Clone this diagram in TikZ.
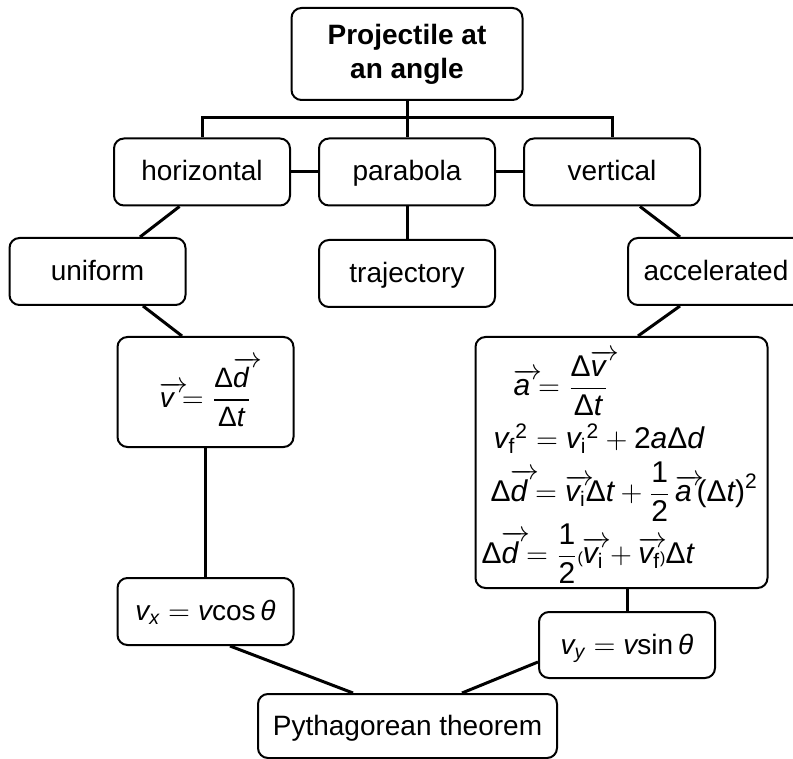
\documentclass[tikz,border=0pt]{standalone}
\usepackage{mathtools}
\usepackage{fontspec}
\setmainfont{Liberation Sans}
\usetikzlibrary{positioning}
\newcommand{\iv}[1]{\text{\itshape #1}}
\newcommand{\vect}[1]{\mathrlap{\overrightarrow{\phantom{\iv{#1}}\hspace{4pt}}}\iv{#1}}
\newcommand{\dlt}{\text{Δ}}

\begin{document}
\begin{tikzpicture}[x=0.5pt,y=-0.5pt,
  box/.style={draw,line width=1pt,rounded corners=5pt,align=center,minimum height=33.5pt,minimum width=88pt,inner sep=2pt,font=\fontsize{14}{17}\selectfont,fill=white},
  tag/.style={box,text height=10pt,text depth=1pt},
  link/.style={line width=1.5pt}
]
\useasboundingbox (0,0) rectangle (793,759);

\node[box,minimum width=115.5pt,minimum height=46pt,font=\fontsize{14}{17}\selectfont\bfseries] (top) at (407,54) {Projectile at\\an angle};
\node[tag] (parab) at (407,172) {parabola};
\node[tag,left=13.5pt of parab] (horiz) {horizontal};
\node[tag,right=13.5pt of parab] (vert) {vertical};
\node[tag,below=16.25pt of parab] (traj) {trajectory};
\node[tag] (unif) at (97.5,271.5) {uniform};
\node[tag] (accel) at (716,271.5) {accelerated};
\node[box,minimum height=55pt] (vel) at (205.5,392) {$\vect{v} = \dfrac{\dlt\vect{d}}{\dlt\iv{t}}$};
\node[box,minimum height=125.5pt,text width=140pt,inner xsep=3pt,align=left,
  font=\fontsize{15}{26.5}\selectfont] (kin) at (621.5,462.5) {%
  \lineskiplimit=-50pt\relax
  \hspace{16pt}$\vect{a} = \dfrac{\dlt\vect{v}}{\dlt\iv{t}}$\rule{0pt}{27pt}\\
  \hspace{6pt}$\iv{v}_{\text{f}}{}^{\text{2}} = \iv{v}_{\text{i}}{}^{\text{2}} + \text{2}\iv{a}\dlt\iv{d}$\\
  \hspace{4.5pt}$\dlt\vect{d} = \vect{v}_{\text{i}}\dlt\iv{t} + \dfrac{\text{1}}{\text{2}}\,\vect{a}\,\text{(}\dlt\iv{t}\text{)}^{\text{2}}$\\
  $\dlt\vect{d} = \dfrac{\text{1}}{\text{2}}\text{\footnotesize(}\vect{v}_{\text{i}} + \vect{v}_{\text{f}}\text{\footnotesize)}\dlt\iv{t}$};
\node[tag] (vx) at (205.5,611.5) {$\iv{v}_{\iv{x}} = \iv{v}\text{cos}\,\iv{θ}$};
\node[tag,minimum height=33pt] (vy) at (627,645) {$\iv{v}_{\iv{y}} = \iv{v}\text{sin}\,\iv{θ}$};
\node[tag,minimum width=149.5pt,minimum height=32pt] (pyth) at (407.5,726) {Pythagorean theorem};

\coordinate (bus) at (407,118);
\draw[link] (top.south) -- (parab.north);
\draw[link] (horiz.north) |- (bus) -| (vert.north);
\draw[link] (horiz) -- (parab);
\draw[link] (parab) -- (vert);
\draw[link] (parab) -- (traj);
\draw[link] ([xshift=-11.25pt]horiz.south) -- ([xshift=21.25pt]unif.north);
\draw[link] ([xshift=14pt]vert.south) -- ([xshift=-18pt]accel.north);
\draw[link] ([xshift=22.75pt]unif.south) -- ([xshift=-11.75pt]vel.north);
\draw[link] ([xshift=-18pt]accel.south) -- ([xshift=8.25pt]kin.north);
\draw[link] (vel) -- (vx);
\draw[link] (vy.north) -- (vy.north |- kin.south);
\draw[link] ([xshift=12.25pt]vx.south) -- ([xshift=-27.25pt]pyth.north);
\draw[link] ([yshift=-8.5pt]vy.west) -- ([xshift=27.25pt]pyth.north);
\end{tikzpicture}
\end{document}
